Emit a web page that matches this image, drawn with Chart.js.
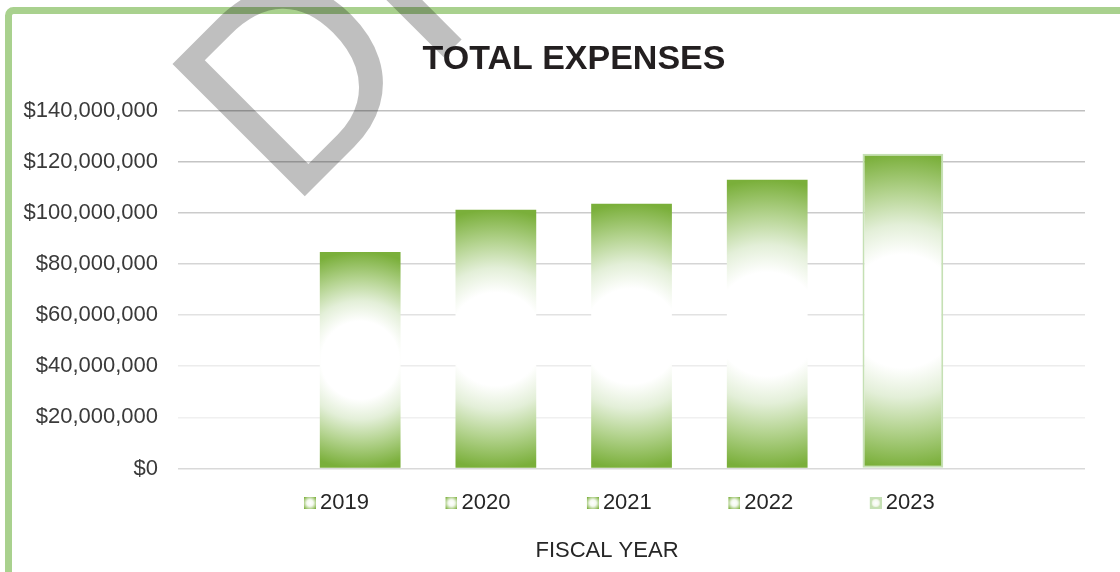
<!DOCTYPE html>
<html>
<head>
<meta charset="utf-8">
<script src="https://cdn.jsdelivr.net/npm/chart.js@4"></script>
<style>
  html, body { margin: 0; padding: 0; background: #ffffff; }
  #wrap { width: 1120px; height: 572px; }
</style>
</head>
<body>
<div id="wrap"><canvas id="c" width="1120" height="572"></canvas></div>
<script>
// ---- data ----
const CATEGORIES = ['2019', '2020', '2021', '2022', '2023'];
const EXPENSES = [84700000, 101200000, 103500000, 112900000, 123100000];
const Y_MIN = 0;
const Y_MAX = 140000000;
const Y_STEP = 20000000;
const CHART_TITLE = 'TOTAL EXPENSES';
const X_TITLE = 'FISCAL YEAR';
const WATERMARK = 'DRAFT';

// ---- styles ----
const GREEN = '#7aaf3a';
const LIGHT_BORDER = '#c5e0b4';
const FRAME = '#a9d18e';
const GRID_COLORS = ['#d9d9d9', '#f0f0f0', '#ececec', '#e2e2e2', '#d5d5d5', '#cbcbcb', '#c4c4c4', '#bfbfbf'];
const CAT_PCT = 0.748;
const BAR_PCT = 0.595;
const FONT = '"Liberation Sans", Arial, sans-serif';

function addStops(g) {
  g.addColorStop(0, '#ffffff');
  g.addColorStop(0.36, '#ffffff');
  g.addColorStop(0.55, '#e3efd8');
  g.addColorStop(0.75, '#b5d491');
  g.addColorStop(1, GREEN);
  return g;
}

function barGradient(ctx) {
  const chart = ctx.chart;
  if (!chart.chartArea || ctx.type !== 'data') return GREEN;
  const xs = chart.scales.x, ys = chart.scales.y;
  const n = chart.data.datasets.length;
  const slot = xs.width * CAT_PCT / n;
  const cx = xs.getPixelForValue(ctx.dataIndex) + (ctx.datasetIndex - (n - 1) / 2) * slot;
  const top = ys.getPixelForValue(ctx.raw);
  const base = ys.getPixelForValue(0);
  const cy = (top + base) / 2;
  const r = Math.max(1, (base - top) / 2);
  return addStops(chart.ctx.createRadialGradient(cx, cy, 0, cx, cy, r));
}

function makeIcon(border) {
  const c = document.createElement('canvas');
  c.width = 72; c.height = 14;
  const g = c.getContext('2d');
  const x0 = 60, y0 = 1, s = 12;
  const grad = g.createRadialGradient(x0 + 6, y0 + 6, 0, x0 + 6, y0 + 6, 8);
  grad.addColorStop(0, '#ffffff');
  grad.addColorStop(0.4, '#f4f9ef');
  grad.addColorStop(1, GREEN);
  g.fillStyle = grad;
  g.fillRect(x0, y0, s, s);
  if (border) {
    g.fillStyle = border;
    g.fillRect(x0, y0, s, 2); g.fillRect(x0, y0 + s - 2, s, 2);
    g.fillRect(x0, y0, 2, s); g.fillRect(x0 + s - 2, y0, 2, s);
  }
  return c;
}

const datasets = CATEGORIES.map((label, i) => ({
  label: label,
  data: [EXPENSES[i]],
  backgroundColor: barGradient,
  borderColor: i === CATEGORIES.length - 1 ? LIGHT_BORDER : 'rgba(0,0,0,0)',
  borderWidth: i === CATEGORIES.length - 1 ? 2 : 0,
  categoryPercentage: CAT_PCT,
  barPercentage: BAR_PCT,
  borderSkipped: false
}));
const icons = CATEGORIES.map((c, i) => makeIcon(i === CATEGORIES.length - 1 ? LIGHT_BORDER : null));

const decor = {
  id: 'decor',
  afterLayout(chart) {
    const lg = chart.legend;
    if (lg && lg.lineWidths && lg.lineWidths.length) {
      const p = lg.options.labels.padding;
      const x0 = (lg.left + p + lg.right - lg.lineWidths[0]) / 2;
      const shift = 251 - x0;
      lg.left += shift; lg.right += shift;
    }
  },
  beforeDraw(chart) {
    const ctx = chart.ctx;
    ctx.save();
    ctx.fillStyle = '#ffffff';
    ctx.fillRect(0, 0, chart.width, chart.height);
    ctx.strokeStyle = FRAME;
    ctx.lineWidth = 7;
    ctx.beginPath();
    ctx.roundRect(8.5, 10.5, 1400, 900, 5);
    ctx.stroke();
    ctx.restore();
  },
  afterDraw(chart) {
    const ctx = chart.ctx;
    ctx.save();
    ctx.fillStyle = '#231f20';
    ctx.font = 'bold 34px ' + FONT;
    ctx.textAlign = 'center';
    ctx.textBaseline = 'middle';
    ctx.fillText(CHART_TITLE, 574, 60);
    ctx.fillStyle = '#262626';
    ctx.font = '22px ' + FONT;
    ctx.fillText(X_TITLE, 607, 551);
    // watermark
    ctx.translate(289, 212);
    ctx.rotate(-Math.PI / 4);
    ctx.font = '272px ' + FONT;
    ctx.textAlign = 'left';
    ctx.textBaseline = 'alphabetic';
    ctx.fillStyle = 'rgba(0,0,0,0.25)';
    ctx.fillText(WATERMARK, 0, 0);
    ctx.restore();
  }
};

new Chart(document.getElementById('c'), {
  type: 'bar',
  data: { labels: [''], datasets: datasets },
  plugins: [decor],
  options: {
    responsive: false,
    animation: false,
    devicePixelRatio: 1,
    layout: { padding: { left: 3.5, right: 35, top: 110.5, bottom: 48 } },
    scales: {
      x: { display: false },
      y: {
        min: Y_MIN,
        max: Y_MAX,
        border: { display: false },
        grid: {
          drawTicks: false,
          lineWidth: 1.5,
          color: (c) => GRID_COLORS[c.index] || '#d9d9d9'
        },
        ticks: {
          stepSize: Y_STEP,
          padding: 20,
          color: '#3a3a3a',
          font: { family: FONT, size: 22 },
          callback: (v) => '$' + Number(v).toLocaleString('en-US')
        }
      }
    },
    plugins: {
      title: { display: false },
      tooltip: { enabled: false },
      legend: {
        display: true,
        position: 'bottom',
        fullSize: false,
        labels: {
          usePointStyle: true,
          pointStyleWidth: 58,
          padding: 23.5,
          color: '#262626',
          font: { family: FONT, size: 22 },
          generateLabels: (chart) => Chart.defaults.plugins.legend.labels.generateLabels(chart)
            .map((l, i) => Object.assign(l, { pointStyle: icons[i] }))
        }
      }
    }
  }
});
</script>
</body>
</html>
